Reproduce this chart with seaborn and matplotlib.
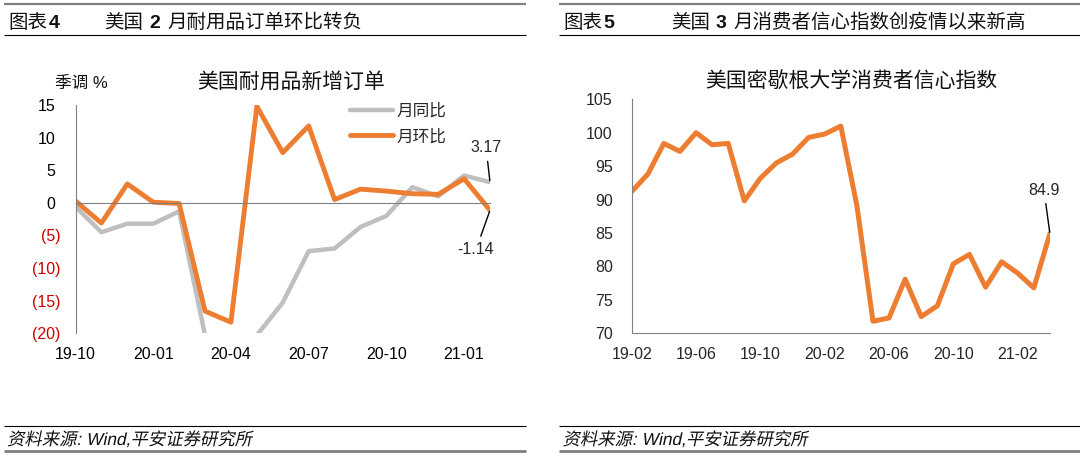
import matplotlib
matplotlib.use("Agg")
import matplotlib.pyplot as plt
import seaborn as sns
import pandas as pd
from matplotlib.lines import Line2D
from matplotlib.textpath import TextPath
from matplotlib.patches import PathPatch
from matplotlib.font_manager import FontProperties
from matplotlib.transforms import Affine2D

# ---------------- data ----------------
dg_months = ['19-10', '19-11', '19-12', '20-01', '20-02', '20-03', '20-04', '20-05',
             '20-06', '20-07', '20-08', '20-09', '20-10', '20-11', '20-12', '21-01', '21-02']
dg_yoy = [-0.6, -4.5, -3.2, -3.2, -1.3, -20.3, -30.0, -20.3,
          -15.3, -7.4, -7.0, -3.7, -2.0, 2.4, 1.0, 4.2, 3.17]
dg_mom = [0.3, -3.1, 2.9, 0.1, -0.1, -16.6, -18.3, 14.8,
          7.7, 11.8, 0.5, 2.1, 1.8, 1.4, 1.3, 3.7, -1.14]
dg_xtick_labels = ['19-10', '20-01', '20-04', '20-07', '20-10', '21-01']
dg_yticks = [-20, -15, -10, -5, 0, 5, 10, 15]
dg_ytick_labels = ['(20)', '(15)', '(10)', '(5)', '0', '5', '10', '15']
dg_series_names = ['月同比', '月环比']

um_months = ['19-01', '19-02', '19-03', '19-04', '19-05', '19-06', '19-07', '19-08', '19-09',
             '19-10', '19-11', '19-12', '20-01', '20-02', '20-03', '20-04', '20-05', '20-06',
             '20-07', '20-08', '20-09', '20-10', '20-11', '20-12', '21-01', '21-02', '21-03']
um_values = [91.2, 93.8, 98.4, 97.2, 100.0, 98.2, 98.4, 89.8, 93.2,
             95.5, 96.8, 99.3, 99.8, 101.0, 89.1, 71.8, 72.3, 78.1,
             72.5, 74.1, 80.4, 81.8, 76.9, 80.7, 79.0, 76.8, 84.9]
um_xtick_labels = ['19-02', '19-06', '19-10', '20-02', '20-06', '20-10', '21-02']
um_yticks = [70, 75, 80, 85, 90, 95, 100, 105]

source_text = '资料来源: Wind,平安证券研究所'

# ---------------- style ----------------
sns.set_theme(style="white")
plt.rcParams['font.family'] = ['Liberation Sans', 'Noto Sans CJK SC']
plt.rcParams['axes.unicode_minus'] = False

ORANGE = '#ED7D31'
GREY = '#BFBFBF'
AXC = '#808080'
RED = '#CC0000'
TXT = '#111111'
W, H = 1080, 457
DPI = 100

fig = plt.figure(figsize=(10.8, 4.57), dpi=DPI)


def fx(x):
    return x / W


def fy(y):
    return 1 - y / H


def hline(x0, x1, y, color, lw):
    fig.add_artist(Line2D([fx(x0), fx(x1)], [fy(y), fy(y)], transform=fig.transFigure,
                          color=color, lw=lw, solid_capstyle='butt'))


# ---------------- header / footer ----------------
for (x0, x1) in [(3.5, 526), (559, 1080)]:
    hline(x0, x1, 4, '#808080', 1.6)
    hline(x0, x1, 34.5, '#000000', 0.8)
    hline(x0, x1, 425.7, '#000000', 0.8)
    hline(x0, x1, 450.5, '#808080', 2.0)

hdr_base = 27.5
fig.text(fx(8), fy(hdr_base), '图表', fontsize=14, va='baseline', color=TXT)
fig.text(fx(48.5), fy(hdr_base), '4', fontsize=14, va='baseline', weight='bold', color=TXT)
fig.text(fx(104), fy(hdr_base), '美国', fontsize=14, va='baseline', color=TXT)
fig.text(fx(149.5), fy(hdr_base), '2', fontsize=14, va='baseline', weight='bold', color=TXT)
fig.text(fx(167), fy(hdr_base), '月耐用品订单环比转负', fontsize=14, va='baseline', color=TXT)

fig.text(fx(563.5), fy(hdr_base), '图表', fontsize=14, va='baseline', color=TXT)
fig.text(fx(603.5), fy(hdr_base), '5', fontsize=14, va='baseline', weight='bold', color=TXT)
fig.text(fx(671.5), fy(hdr_base), '美国', fontsize=14, va='baseline', color=TXT)
fig.text(fx(715.8), fy(hdr_base), '3', fontsize=14, va='baseline', weight='bold', color=TXT)
fig.text(fx(733), fy(hdr_base), '月消费者信心指数创疫情以来新高', fontsize=14, va='baseline', color=TXT)

# oblique source line (CJK fonts have no italic face -> skew the glyph outlines)
try:
    fp = FontProperties(family=['Liberation Sans', 'Noto Sans CJK SC'], size=12.5)
    tpath = TextPath((0, 0), source_text, prop=fp)
    for xs in (7, 562.5):
        tr = Affine2D().skew_deg(12, 0).scale(DPI / 72.0).translate(xs, H - 445)
        fig.add_artist(PathPatch(tpath, transform=tr, facecolor=TXT, edgecolor='none', lw=0))
except Exception:
    for xs in (7, 562.5):
        fig.text(fx(xs), fy(445), source_text, fontsize=12.5, va='baseline',
                 style='italic', color=TXT)

# ---------------- left chart ----------------
ax1 = fig.add_axes([fx(75.5), fy(333.3), (490 - 75.5) / W, (333.3 - 105) / H])
dg_idx = list(range(len(dg_months)))
df_dg = pd.DataFrame({'i': dg_idx, 'yoy': dg_yoy, 'mom': dg_mom})
sns.lineplot(data=df_dg, x='i', y='yoy', ax=ax1, color=GREY, linewidth=3.2, label=dg_series_names[0])
sns.lineplot(data=df_dg, x='i', y='mom', ax=ax1, color=ORANGE, linewidth=3.5, label=dg_series_names[1])
ax1.set_xlim(0, len(dg_months) - 1)
ax1.set_ylim(-20, 15)
ax1.set_xlabel('')
ax1.set_ylabel('')
for s in ('top', 'right'):
    ax1.spines[s].set_visible(False)
ax1.spines['left'].set_color(AXC)
ax1.spines['left'].set_linewidth(0.8)
ax1.spines['bottom'].set_position(('data', 0))
ax1.spines['bottom'].set_color(AXC)
ax1.spines['bottom'].set_linewidth(0.8)
dg_tick_pos = dg_idx[::3][:len(dg_xtick_labels)]
ax1.set_xticks(dg_tick_pos)
ax1.tick_params(axis='x', direction='in', length=4, color=AXC, width=0.8, labelbottom=False)
ax1.set_yticks(dg_yticks)
ax1.set_yticklabels(dg_ytick_labels)
ax1.tick_params(axis='y', direction='in', length=4, color=AXC, width=0.8, labelsize=11.5)
for t, v in zip(ax1.yaxis.get_major_ticks(), dg_yticks):
    if v < 0:
        t.label1.set_color(RED)
        t.set_pad(10.7)
    else:
        t.label1.set_color('black')
        t.set_pad(14.5)

sec = ax1.secondary_xaxis('bottom')
sec.set_xticks(dg_tick_pos, dg_xtick_labels)
sec.tick_params(axis='x', length=0, labelsize=11.5, pad=10, colors='black')
sec.spines['bottom'].set_visible(False)

leg = ax1.legend(loc='upper left', bbox_to_anchor=(fx(349.6), fy(103)),
                 bbox_transform=fig.transFigure, frameon=False, borderpad=0, borderaxespad=0,
                 handlelength=2.6, handletextpad=0.2, labelspacing=0.62, fontsize=12)

fig.text(fx(55), fy(83.3), '季调 %', fontsize=12, va='center', ha='left', color=TXT)
fig.text(fx(291), fy(81.7), '美国耐用品新增订单', fontsize=15, va='center', ha='center', color=TXT)

ax1.annotate(f'{dg_yoy[-1]:.2f}', xy=(dg_idx[-1], dg_yoy[-1]), xytext=(15.85, 8.43),
             ha='center', va='center', fontsize=11.5,
             arrowprops=dict(arrowstyle='-', color='black', lw=1, shrinkA=2, shrinkB=1))
ax1.annotate(f'{dg_mom[-1]:.2f}', xy=(dg_idx[-1], dg_mom[-1]), xytext=(15.46, -7.16),
             ha='center', va='center', fontsize=11.5,
             arrowprops=dict(arrowstyle='-', color='black', lw=1, shrinkA=2, shrinkB=1))

# ---------------- right chart ----------------
ax2 = fig.add_axes([fx(631.7), fy(333.3), (1049.9 - 631.7) / W, (333.3 - 99.3) / H])
um_idx = list(range(len(um_months)))
df_um = pd.DataFrame({'i': um_idx, 'v': um_values})
sns.lineplot(data=df_um, x='i', y='v', ax=ax2, color=ORANGE, linewidth=3.6)
ax2.set_xlim(0, len(um_months) - 1)
ax2.set_ylim(70, 105)
ax2.set_xlabel('')
ax2.set_ylabel('')
for s in ('top', 'right'):
    ax2.spines[s].set_visible(False)
for s in ('left', 'bottom'):
    ax2.spines[s].set_color(AXC)
    ax2.spines[s].set_linewidth(0.8)
ax2.set_xticks(um_idx[::4][:len(um_xtick_labels)], um_xtick_labels)
ax2.tick_params(axis='x', direction='in', length=4, color=AXC, width=0.8, labelsize=11.5, pad=10)
ax2.set_yticks(um_yticks)
ax2.tick_params(axis='y', direction='in', length=4, color=AXC, width=0.8, labelsize=11.5, pad=13.7)

fig.text(fx(851.5), fy(81.7), '美国密歇根大学消费者信心指数', fontsize=15, va='center', ha='center',
         color=TXT)

ax2.annotate(f'{um_values[-1]:.1f}', xy=(um_idx[-1], um_values[-1]), xytext=(25.63, 91.43),
             ha='center', va='center', fontsize=11.5,
             arrowprops=dict(arrowstyle='-', color='black', lw=1, shrinkA=2, shrinkB=1))

fig.savefig('out.png', dpi=DPI)
